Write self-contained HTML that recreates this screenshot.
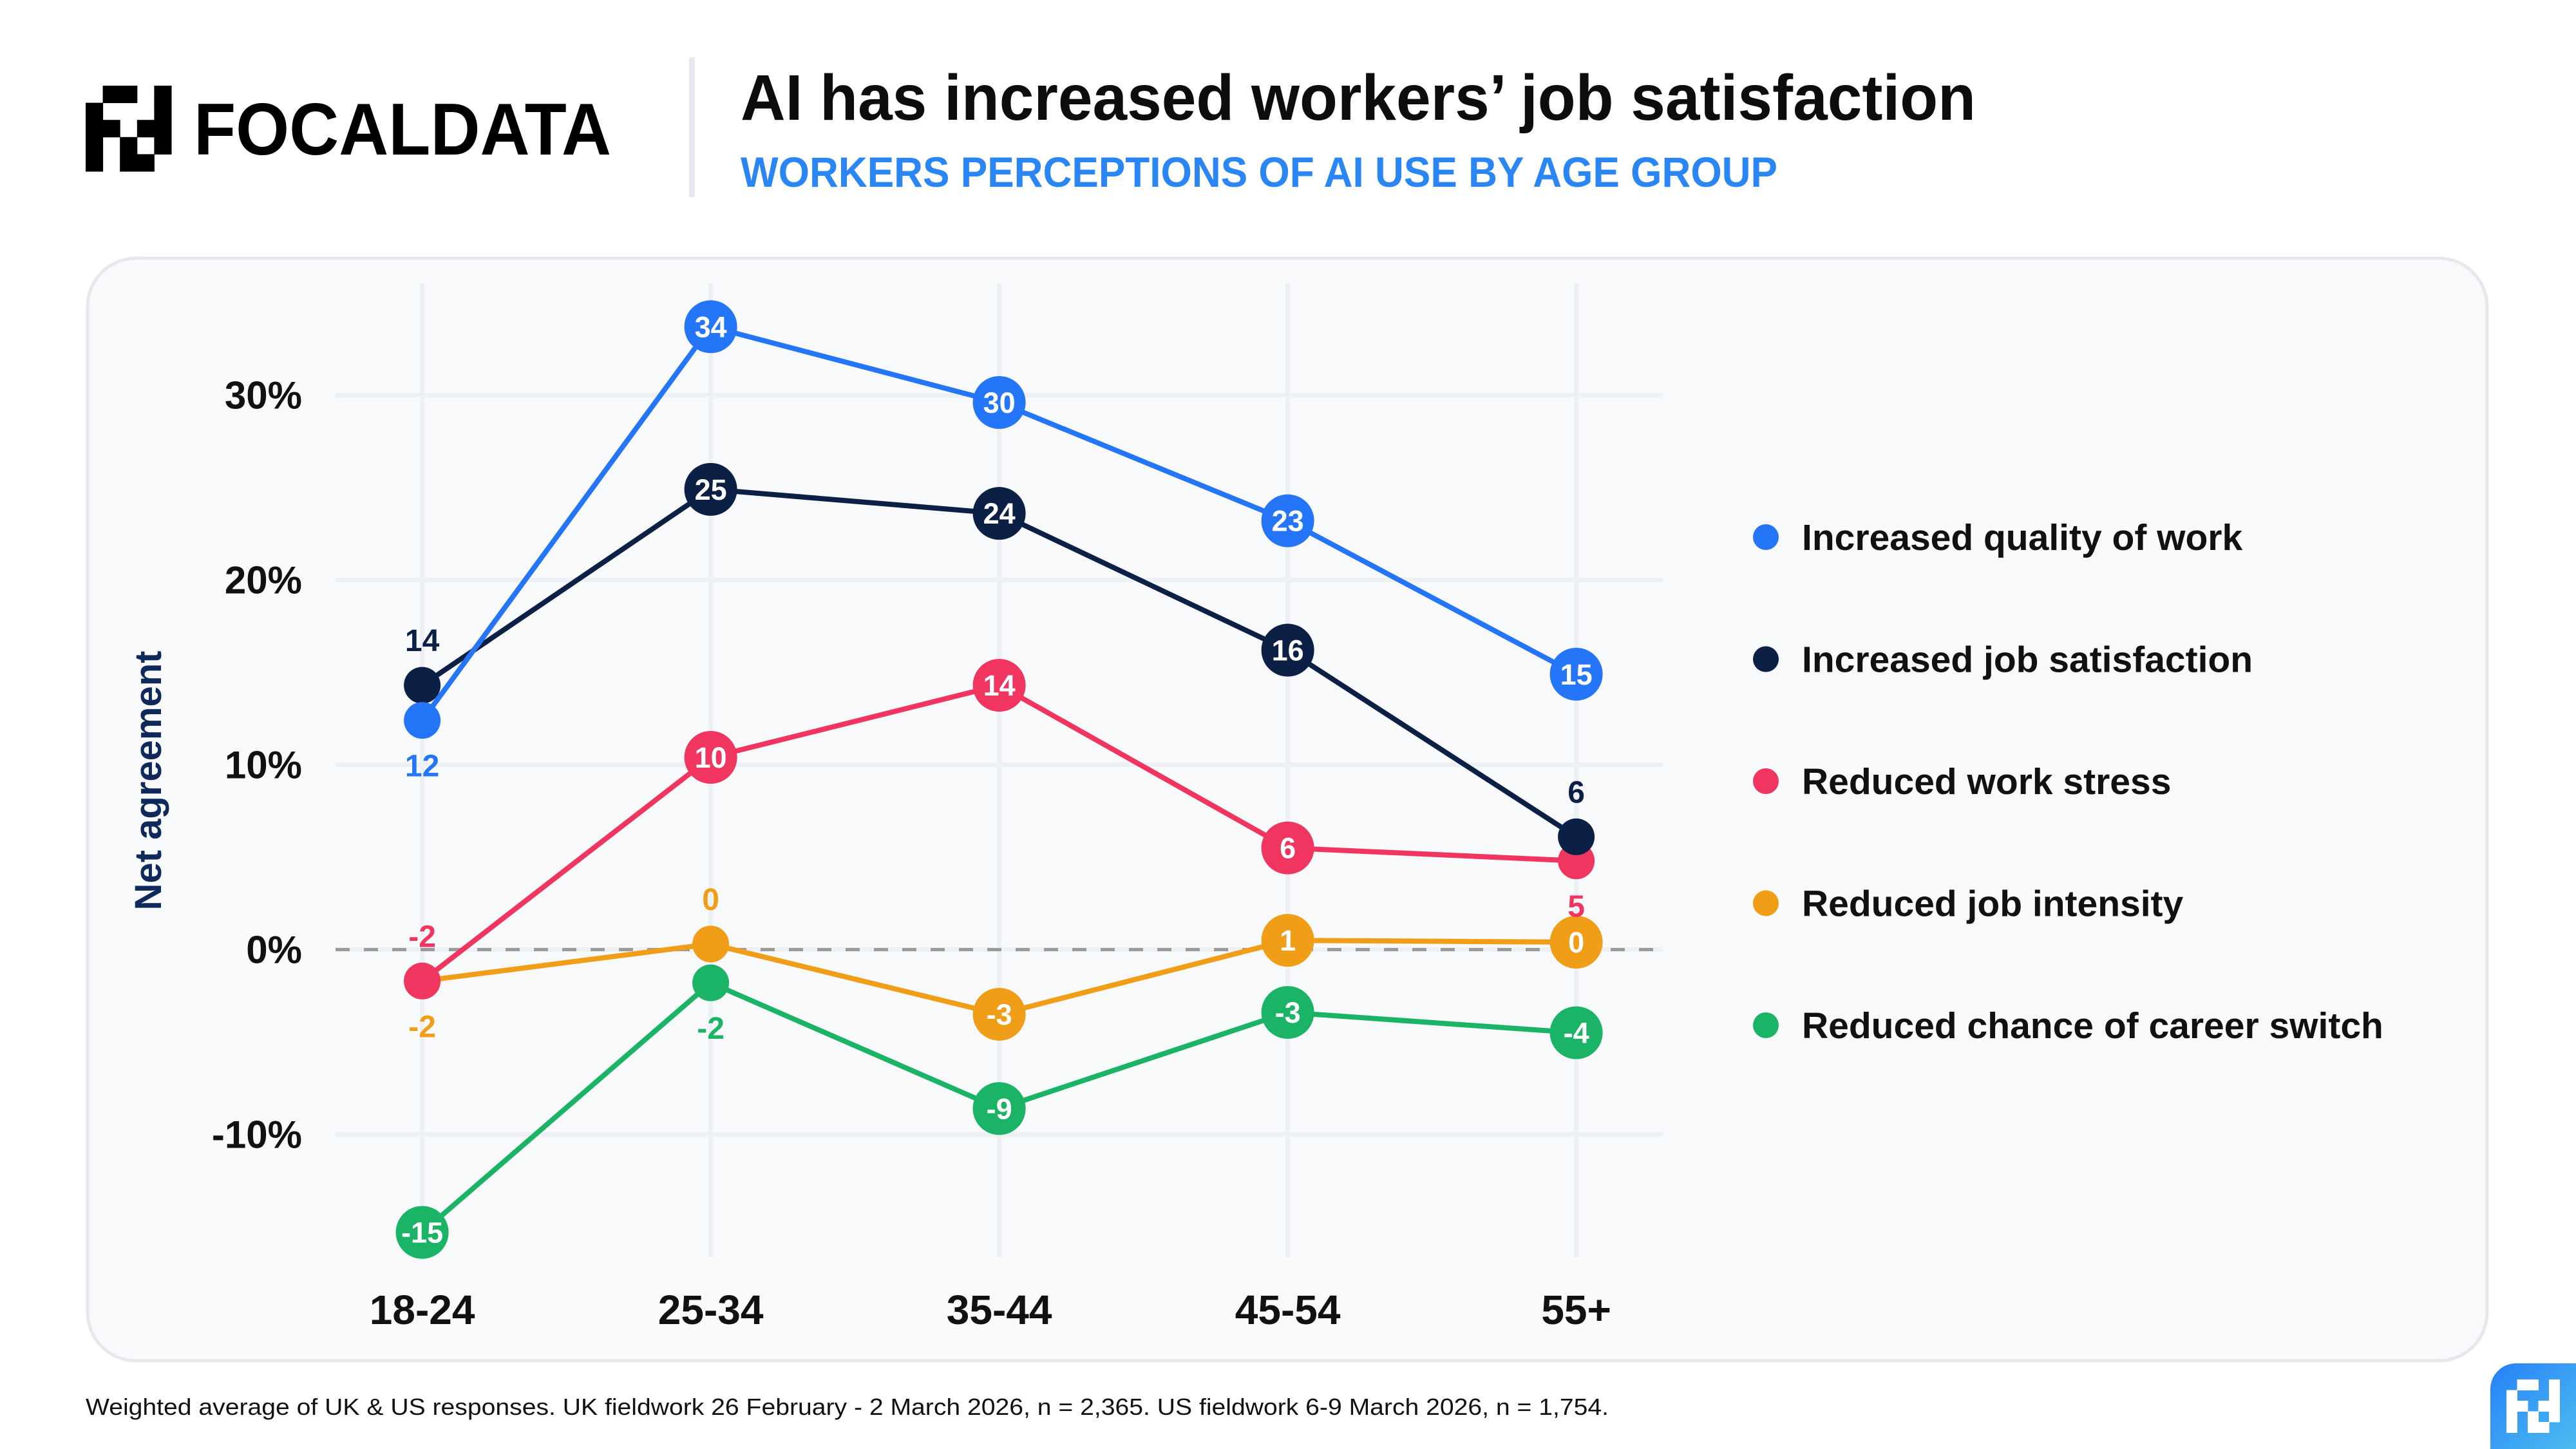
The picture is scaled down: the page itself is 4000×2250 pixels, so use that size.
<!DOCTYPE html>
<html><head><meta charset="utf-8"><style>
html,body{margin:0;padding:0;background:#fff;}
svg{display:block;font-family:"Liberation Sans",sans-serif;}
</style></head><body>
<svg id="chart" width="4000" height="2250" viewBox="0 0 4000 2250" xmlns="http://www.w3.org/2000/svg">
<defs>
<linearGradient id="cornerGrad" x1="0" y1="0" x2="1" y2="1"><stop offset="0" stop-color="#2680f8"/><stop offset="1" stop-color="#4cbdf0"/></linearGradient>
</defs>
<rect width="4000" height="2250" fill="#fff"/>
<g id="logo"></g>
<text x="301" y="240" font-size="114" font-weight="bold" fill="#000" textLength="648" lengthAdjust="spacingAndGlyphs">FOCALDATA</text>
<rect x="1070" y="89" width="9" height="217" fill="#e6e8ee"/>
<text x="1150" y="186" font-size="100" font-weight="bold" fill="#0d0d0d" textLength="1918" lengthAdjust="spacingAndGlyphs">AI has increased workers’ job satisfaction</text>
<text x="1150" y="290" font-size="66" font-weight="bold" fill="#2a85f5" textLength="1610" lengthAdjust="spacingAndGlyphs">WORKERS PERCEPTIONS OF AI USE BY AGE GROUP</text>
<rect x="136" y="401" width="3726" height="1712" rx="75" fill="#f7f9fb" stroke="#e6e8ec" stroke-width="5"/>
<g id="grid"></g>
<g id="yaxis"></g>
<g id="xaxis"></g>
<text transform="translate(250,1212) rotate(-90)" text-anchor="middle" font-size="58" font-weight="bold" fill="#0f2a5a">Net agreement</text>
<g id="series"></g>
<g id="legend"></g>
<text x="133" y="2197" font-size="36" fill="#111" textLength="2365" lengthAdjust="spacingAndGlyphs">Weighted average of UK &amp; US responses. UK fieldwork 26 February - 2 March 2026, n = 2,365. US fieldwork 6-9 March 2026, n = 1,754.</text>
<path d="M3867,2250 V2157 A40,40 0 0 1 3907,2117 H4000 V2250 Z" fill="url(#cornerGrad)"/>
<g id="badgeLogo"></g>
</svg>
<script>
const categories = ["18-24","25-34","35-44","45-54","55+"];
const yTicks = [-10,0,10,20,30];
const seriesNames = ["Increased quality of work","Increased job satisfaction","Reduced work stress","Reduced job intensity","Reduced chance of career switch"];
const qualityValues = [12.4,33.7,29.6,23.2,14.9];
const satisfactionValues = [14.3,24.9,23.6,16.2,6.1];
const stressValues = [-1.7,10.4,14.3,5.5,4.8];
const intensityValues = [-1.7,0.3,-3.5,0.5,0.4];
const switchValues = [-15.3,-1.8,-8.6,-3.4,-4.5];
const qualityLabelPos = ["below","in","in","in","in"];
const satisfactionLabelPos = ["above","in","in","in","above"];
const stressLabelPos = ["above","in","in","in","below"];
const intensityLabelPos = ["below","above","in","in","in"];
const switchLabelPos = ["in","below","in","in","in"];

const NS="http://www.w3.org/2000/svg";
const svg=document.getElementById('chart');
function mk(tag,attrs,parent){const e=document.createElementNS(NS,tag);for(const k in attrs)e.setAttribute(k,attrs[k]);parent.appendChild(e);return e;}
const xScale=i=>655.6+i*448;
const yScale=v=>1474.5-v*28.7;

const pattern=[[0,1,1,0,1],[1,0,0,0,1],[1,1,0,1,1],[1,0,1,0,1],[1,0,1,1,0]];
function drawLogo(g,x0,y0,c,fill){for(let r=0;r<5;r++)for(let k=0;k<5;k++)if(pattern[r][k]){const e=mk('rect',{x:x0+k*c,y:y0+r*c,width:c+0.5,height:c+0.5,fill:fill},g);

}}
drawLogo(document.getElementById('logo'),133,133,26.6,'#000');
drawLogo(document.getElementById('badgeLogo'),3892,2142,16.5,'#fff');

const grid=document.getElementById('grid');
yTicks.forEach(t=>{const l=mk('line',{x1:521,x2:2582,y1:yScale(t),y2:yScale(t),stroke:'#edf0f4','stroke-width':7},grid);

});
categories.forEach((c,i)=>{const l=mk('line',{x1:xScale(i),x2:xScale(i),y1:439,y2:1952,stroke:'#edf0f5','stroke-width':7},grid);

});
const zl=mk('line',{x1:521,x2:2582,y1:yScale(0),y2:yScale(0),stroke:'#9a9a9a','stroke-width':5,'stroke-dasharray':'22 22'},grid);



const ya=document.getElementById('yaxis');
yTicks.forEach(t=>{const e=mk('text',{x:469,y:yScale(t)+21,'text-anchor':'end','font-size':60,'font-weight':'bold',fill:'#111'},ya);e.textContent=t+'%';

});
const xa=document.getElementById('xaxis');
categories.forEach((c,i)=>{const e=mk('text',{x:xScale(i),y:2056,'text-anchor':'middle','font-size':64,'font-weight':'bold',fill:'#111'},xa);e.textContent=c;

});

const colors=['#2475f7','#0c1f45','#ef3560','#f09e17','#1bb466'];
const allVals=[qualityValues,satisfactionValues,stressValues,intensityValues,switchValues];
const allPos=[qualityLabelPos,satisfactionLabelPos,stressLabelPos,intensityLabelPos,switchLabelPos];
const order=[4,3,2,1,0];
const sg=document.getElementById('series');
order.forEach(s=>{
  const g=mk('g',{},sg);
  
  
  const vals=allVals[s];
  const pl=mk('polyline',{points:vals.map((v,i)=>xScale(i)+','+yScale(v)).join(' '),fill:'none',stroke:colors[s],'stroke-width':8,'stroke-linejoin':'round'},g);
  
  
  vals.forEach((v,i)=>{
    const cx=xScale(i),cy=yScale(v),mode=allPos[s][i],lab=String(Math.round(v));
    const big=mode==='in';
    const c=mk('circle',{cx:cx,cy:cy,r:big?41:28.5,fill:colors[s]},g);
    
    
    let t;
    if(big){t=mk('text',{x:cx,y:cy+16,'text-anchor':'middle','font-size':45,'font-weight':'bold',fill:'#fff'},g);}
    else{const dy=mode==='above'?-70:70;t=mk('text',{x:cx,y:cy+dy+17,'text-anchor':'middle','font-size':48,'font-weight':'bold',fill:colors[s]},g);}
    t.textContent=lab;
    
    
  });
});

const lg=document.getElementById('legend');
seriesNames.forEach((n,i)=>{
  const y=834+i*189.5;
  const g=mk('g',{},lg);
  
  
  const c=mk('circle',{cx:2742,cy:y,r:20,fill:colors[i]},g);
  
  
  const t=mk('text',{x:2798,y:y+20,'font-size':57,'font-weight':'bold',fill:'#111'},g);
  t.textContent=n;
  
  
});
</script>
</body></html>
